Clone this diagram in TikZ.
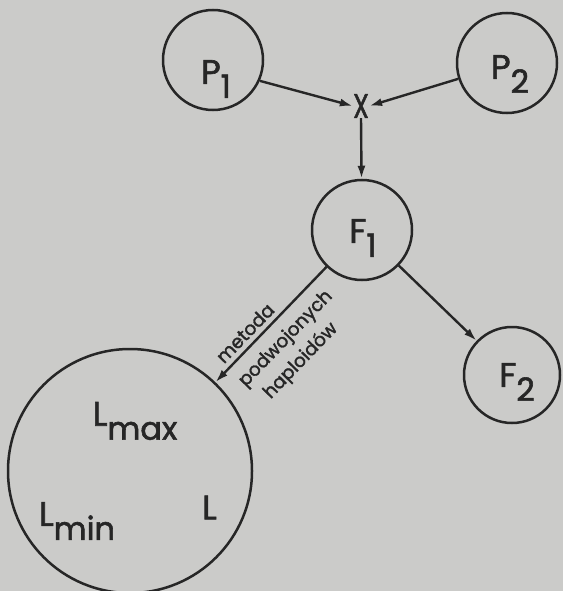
\documentclass[tikz,border=0pt]{standalone}
\usepackage{fontspec}
\setmainfont{Poppins}[FakeBold=1.8]
\usetikzlibrary{arrows.meta}
\definecolor{paper}{RGB}{203,203,201}
\definecolor{ink}{RGB}{38,38,38}
\newcommand{\sbs}[1]{\raisebox{-14pt}{\fontsize{32}{32}\selectfont #1}}
\begin{document}
\begin{tikzpicture}[x=1pt,y=-1pt,
  circ/.style={draw=ink,line width=2.5pt,circle,inner sep=0pt,minimum size=#1},
  lbl/.style={text=ink,font=\fontsize{34}{34}\selectfont,inner sep=0pt},
  small/.style={text=ink,font=\fontsize{18.5}{18.5}\selectfont,inner sep=0pt,rotate=46},
  arr/.style={draw=ink,line width=2.4pt,-{Latex[length=13pt,width=8pt]}}]
\fill[paper] (0,0) rectangle (563,591);
\useasboundingbox (0,0) rectangle (563,591);
% circles
\node[circ=100pt] (P1) at (213,60) {};
\node[circ=100pt] (P2) at (507,63) {};
\node[circ=100pt] (F1) at (362,230) {};
\node[circ=96pt] (F2) at (512,375) {};
\node[circ=244pt] (big) at (130,471) {};
% cross
\node[lbl] (x) at (361,106) {\scalebox{0.75}[1]{X}};
% texts
\node[lbl] (tP1) at (216,79) {P\sbs{1}};
\node[lbl] (tP2) at (510,74) {P\sbs{2}};
\node[lbl] (tF1) at (363,238) {F\sbs{1}};
\node[lbl] (tF2) at (517,382) {F\sbs{2}};
\node[lbl] (tLmax) at (135,421) {L\sbs{max}};
\node[lbl] (tLmin) at (77,521) {L\sbs{min}};
\node[lbl] (tL) at (209.5,507.5) {L};
\node[small] (m1) at (245,333) {metoda};
\node[small] (m2) at (286,339) {podwojonych};
\node[small] (m3) at (301,361) {haploidów};
% arrows
\draw[arr] (P1.-24) -- (x.west);
\draw[arr] (P2.198) -- (x.east);
\draw[arr] (x.south) -- (F1);
\draw[arr] (F1) -- (big);
\draw[arr] (F1) -- (F2);
\end{tikzpicture}
\end{document}
